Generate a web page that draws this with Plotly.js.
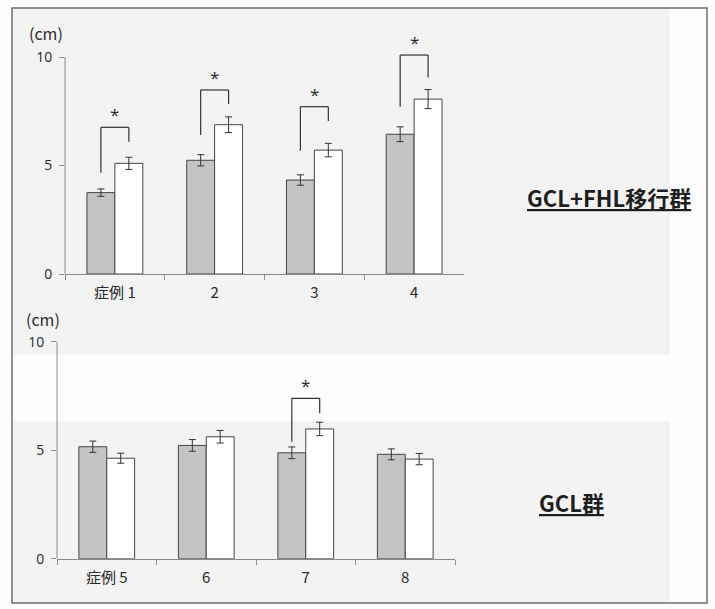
<!DOCTYPE html>
<html>
<head>
<meta charset="utf-8">
<script src="https://cdn.plot.ly/plotly-3.0.1.min.js"></script>
<style>html,body{margin:0;padding:0;background:#fff;}#chart{width:715px;height:609px;}</style>
</head>
<body>
<div id="chart"></div>
<script>
// ---- data ----
const casesTop = ["症例 1", "2", "3", "4"];
const beforeTop = [3.75, 5.24, 4.33, 6.44];
const beforeTopErr = [0.17, 0.26, 0.24, 0.34];
const afterTop = [5.10, 6.88, 5.71, 8.06];
const afterTopErr = [0.28, 0.36, 0.31, 0.44];

const casesBottom = ["症例 5", "6", "7", "8"];
const beforeBottom = [5.16, 5.22, 4.88, 4.81];
const beforeBottomErr = [0.26, 0.27, 0.27, 0.25];
const afterBottom = [4.63, 5.62, 5.98, 4.59];
const afterBottomErr = [0.23, 0.29, 0.31, 0.26];

// significance brackets (category index, left-leg bottom, right-leg bottom, bracket top) in cm
const sigTopIdx = [0, 1, 2, 3];
const sigTopLeft = [4.67, 6.41, 5.68, 7.71];
const sigTopRight = [6.10, 7.83, 7.05, 9.05];
const sigTopLevel = [6.76, 8.48, 7.71, 10.09];
const sigBottomIdx = [2];
const sigBottomLeft = [5.39];
const sigBottomRight = [6.70];
const sigBottomLevel = [7.39];

const groupTopLabel = "GCL+FHL移行群";
const groupBottomLabel = "GCL群";
const unitLabel = "(cm)";
const yTicks = [0, 5, 10];
const yMax = 10;

// ---- styling ----
const W = 715, H = 609;
const px = v => v / W;
const py = v => 1 - v / H;
const pxPerCm = 21.7;
const headroom = 0.6; // extra room above 10 so brackets/asterisks are not clipped
const grayFill = "#c4c4c4";
const edge = "#454545";
const axisCol = "#8a8a8a";
const txt = "#2a2a2a";
const fontLatin = "Open Sans, Noto Sans CJK JP, sans-serif";
const fontCJK = "Noto Sans CJK JP, Noto Sans, sans-serif";

function bars(x, y, err, fill, xa, ya) {
  return {
    type: "bar", x: x, y: y, xaxis: xa, yaxis: ya,
    marker: {color: fill, line: {color: edge, width: 1}},
    error_y: {type: "data", array: err, visible: true, color: "#333", thickness: 1, width: 3.5},
    hoverinfo: "skip"
  };
}

const data = [
  bars(casesTop, beforeTop, beforeTopErr, grayFill, "x", "y"),
  bars(casesTop, afterTop, afterTopErr, "#ffffff", "x", "y"),
  bars(casesBottom, beforeBottom, beforeBottomErr, grayFill, "x2", "y2"),
  bars(casesBottom, afterBottom, afterBottomErr, "#ffffff", "x2", "y2")
];

const half = 0.14;
const shapes = [
  // scanned background tones
  {type: "rect", xref: "paper", yref: "paper", x0: px(12), x1: px(670), y0: py(355), y1: py(8), fillcolor: "#f3f3f3", line: {width: 0}, layer: "below"},
  {type: "rect", xref: "paper", yref: "paper", x0: px(12), x1: px(670), y0: py(603), y1: py(421), fillcolor: "#f3f3f3", line: {width: 0}, layer: "below"},
  // frame
  {type: "rect", xref: "paper", yref: "paper", x0: px(12), x1: px(707), y0: py(603), y1: py(8), line: {color: "#6e6e6e", width: 1.5}, layer: "below"},
  // y axis lines drawn from 0 to 10 only
  {type: "line", xref: "x domain", yref: "y", x0: 0, x1: 0, y0: 0, y1: yMax, line: {color: axisCol, width: 1}},
  {type: "line", xref: "x2 domain", yref: "y2", x0: 0, x1: 0, y0: 0, y1: yMax, line: {color: axisCol, width: 1}}
];

function addBrackets(idx, lb, rb, top, xa, ya) {
  const anns = [];
  idx.forEach((c, i) => {
    const l = c - half, r = c + half;
    const st = {color: "#333", width: 1.2};
    shapes.push({type: "line", xref: xa, yref: ya, x0: l, x1: l, y0: lb[i], y1: top[i], line: st});
    shapes.push({type: "line", xref: xa, yref: ya, x0: l, x1: r, y0: top[i], y1: top[i], line: st});
    shapes.push({type: "line", xref: xa, yref: ya, x0: r, x1: r, y0: top[i], y1: rb[i], line: st});
    anns.push({xref: xa, yref: ya, x: c, y: top[i], text: "*", showarrow: false,
      yanchor: "bottom", yshift: -1, font: {family: fontLatin, size: 17, color: txt}});
  });
  return anns;
}

const annotations = []
  .concat(addBrackets(sigTopIdx, sigTopLeft, sigTopRight, sigTopLevel, "x", "y"))
  .concat(addBrackets(sigBottomIdx, sigBottomLeft, sigBottomRight, sigBottomLevel, "x2", "y2"));

annotations.push(
  {xref: "paper", yref: "paper", x: px(27), y: py(33), xanchor: "left", yanchor: "middle",
   text: unitLabel, showarrow: false, font: {family: fontCJK, size: 16, color: txt}},
  {xref: "paper", yref: "paper", x: px(24), y: py(319), xanchor: "left", yanchor: "middle",
   text: unitLabel, showarrow: false, font: {family: fontCJK, size: 16, color: txt}},
  {xref: "paper", yref: "paper", x: px(609), y: py(197), xanchor: "center", yanchor: "middle",
   text: "<b><u>" + groupTopLabel + "</u></b>", showarrow: false, font: {family: fontCJK, size: 22, color: "#1e1e1e"}},
  {xref: "paper", yref: "paper", x: px(571), y: py(502), xanchor: "center", yanchor: "middle",
   text: "<b><u>" + groupBottomLabel + "</u></b>", showarrow: false, font: {family: fontCJK, size: 22, color: "#1e1e1e"}}
);

function xAxis(domain, anchor) {
  return {
    domain: domain, anchor: anchor, type: "category", range: [-0.5, 3.5],
    showline: true, linecolor: axisCol, linewidth: 1,
    ticks: "outside", tickson: "boundaries", ticklen: 5, tickcolor: axisCol,
    ticklabelstandoff: 5,
    showgrid: false, zeroline: false, fixedrange: true,
    tickfont: {family: fontCJK, size: 15, color: txt}
  };
}
function yAxis(zeroPx, anchor) {
  const top = yMax + headroom;
  return {
    domain: [py(zeroPx), py(zeroPx - top * pxPerCm)], anchor: anchor, range: [0, top], tickvals: yTicks,
    showline: false,
    ticks: "outside", ticklen: 5, tickcolor: axisCol, ticklabelstandoff: 4,
    showgrid: false, zeroline: false, fixedrange: true,
    tickfont: {family: fontLatin, size: 14, color: txt}
  };
}

const layout = {
  width: W, height: H,
  margin: {l: 0, r: 0, t: 0, b: 0},
  paper_bgcolor: "#fdfdfd", plot_bgcolor: "rgba(0,0,0,0)",
  showlegend: false,
  barmode: "group", bargap: 0.44, bargroupgap: 0,
  xaxis: xAxis([px(65), px(464)], "y"),
  yaxis: yAxis(274, "x"),
  xaxis2: xAxis([px(57), px(455)], "y2"),
  yaxis2: yAxis(558.7, "x2"),
  shapes: shapes,
  annotations: annotations
};

Plotly.newPlot("chart", data, layout, {displayModeBar: false, staticPlot: true});
</script>
</body>
</html>
